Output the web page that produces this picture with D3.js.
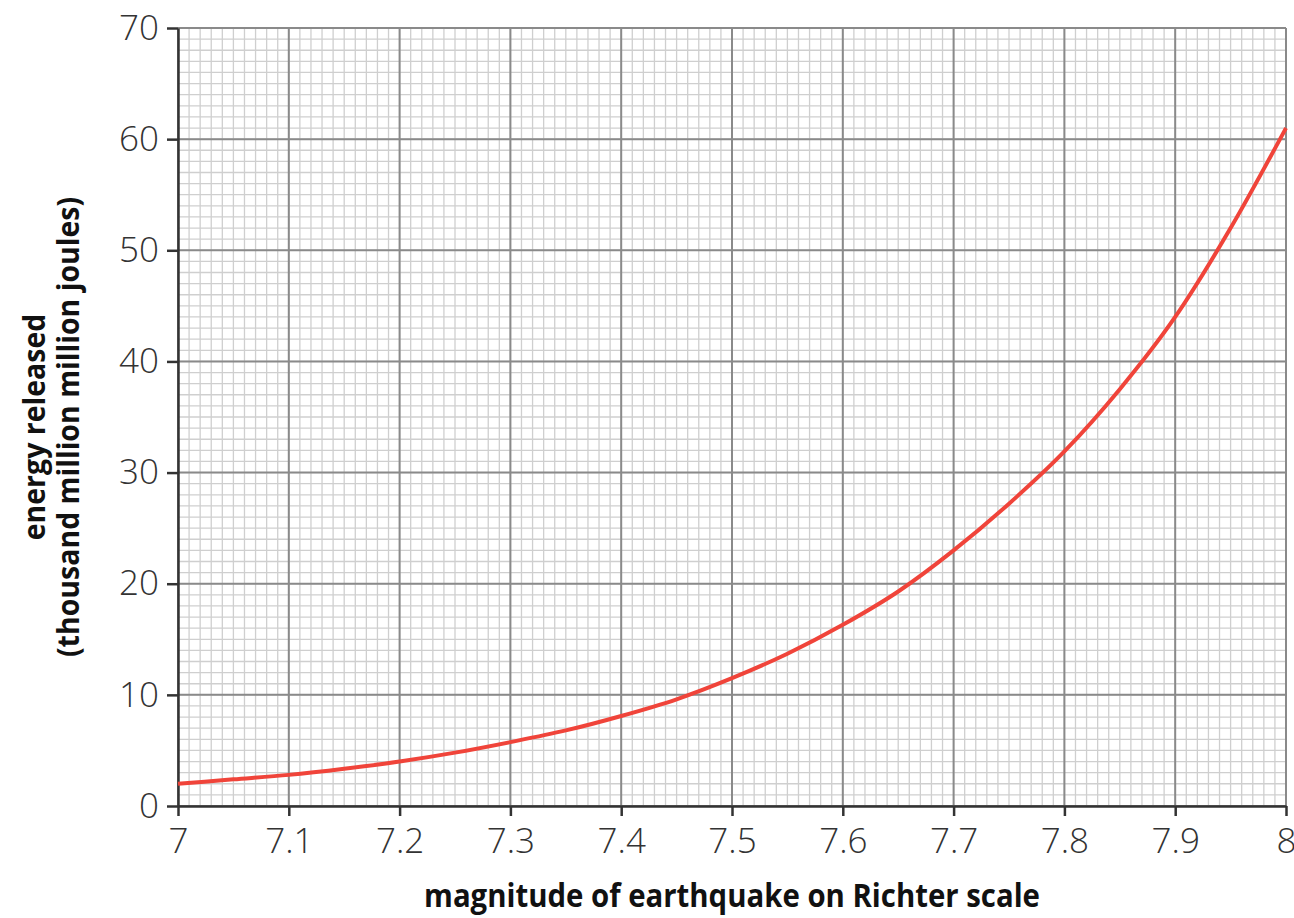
<!DOCTYPE html>
<html>
<head>
<meta charset="utf-8">
<script src="https://cdn.jsdelivr.net/npm/d3@7"></script>
<style>
  body { margin: 0; background: #fff; }
  .tick-label { font-family: "Open Sans", "Liberation Sans", sans-serif; font-weight: 300; fill: #333; }
  .axis-title { font-family: "Open Sans", "DejaVu Sans", sans-serif; font-weight: bold; fill: #111; }
</style>
</head>
<body>
<div id="chart"></div>
<script>
// values
const magnitudes = [7.0, 7.05, 7.1, 7.15, 7.2, 7.25, 7.3, 7.35, 7.4, 7.45, 7.5, 7.55, 7.6, 7.65, 7.7, 7.75, 7.8, 7.85, 7.9, 7.95, 8.0]
const energies   = [2.0, 2.4, 2.8, 3.35, 4.0, 4.8, 5.75, 6.8, 8.1, 9.6, 11.5, 13.7, 16.3, 19.3, 23.0, 27.2, 31.9, 37.5, 44.0, 52.0, 61.0]
const xTicks = [7, 7.1, 7.2, 7.3, 7.4, 7.5, 7.6, 7.7, 7.8, 7.9, 8]
const yTicks = [0, 10, 20, 30, 40, 50, 60, 70]

const width = 1294, height = 918
const margin = {top: 28, right: 8, bottom: 112, left: 178}

const svg = d3.select("#chart").append("svg")
  .attr("width", width)
  .attr("height", height)

const x = d3.scaleLinear().domain([7, 8]).range([margin.left, width - margin.right])
const y = d3.scaleLinear().domain([0, 70]).range([height - margin.bottom, margin.top])

// minor grid, ten steps per major division
const xMinor = d3.range(0, 101).map(i => 7 + i / 100)
const yMinor = d3.range(0, 71)

const grid = svg.append("g")
grid.append("g").selectAll("line")
  .data(xMinor)
  .join("line")
    .attr("x1", d => x(d)).attr("x2", d => x(d))
    .attr("y1", y(0)).attr("y2", y(70))
    .attr("stroke", "#cfcfcf").attr("stroke-width", 1.3)
grid.append("g").selectAll("line")
  .data(yMinor)
  .join("line")
    .attr("y1", d => y(d)).attr("y2", d => y(d))
    .attr("x1", x(7)).attr("x2", x(8))
    .attr("stroke", "#cfcfcf").attr("stroke-width", 1.3)

// major grid
grid.append("g").selectAll("line")
  .data(xTicks)
  .join("line")
    .attr("x1", d => x(d)).attr("x2", d => x(d))
    .attr("y1", y(0)).attr("y2", y(70))
    .attr("stroke", "#8a8a8a").attr("stroke-width", 2)
grid.append("g").selectAll("line")
  .data(yTicks)
  .join("line")
    .attr("y1", d => y(d)).attr("y2", d => y(d))
    .attr("x1", x(7)).attr("x2", x(8))
    .attr("stroke", "#8a8a8a").attr("stroke-width", 2)

// axes
const xAxis = g => g
  .attr("transform", `translate(0,${y(0)})`)
  .call(d3.axisBottom(x).tickValues(xTicks).tickFormat(d3.format("~g")).tickSize(10).tickSizeOuter(0).tickPadding(12))
  .call(g => g.selectAll("path, line").attr("stroke", "#333").attr("stroke-width", 2.5))
  .call(g => g.selectAll("text").attr("class", "tick-label").attr("font-size", 35).attr("fill", "#333"))

const yAxis = g => g
  .attr("transform", `translate(${x(7)},0)`)
  .call(d3.axisLeft(y).tickValues(yTicks).tickSize(11).tickSizeOuter(0).tickPadding(8))
  .call(g => g.selectAll("path, line").attr("stroke", "#333").attr("stroke-width", 2.5))
  .call(g => g.selectAll("text").attr("class", "tick-label").attr("font-size", 35).attr("fill", "#333"))

svg.append("g").call(xAxis).attr("font-family", null)
svg.append("g").call(yAxis).attr("font-family", null)

// curve
const line = d3.line()
  .curve(d3.curveMonotoneX)
  .x((d, i) => x(magnitudes[i]))
  .y(d => y(d))

svg.append("path")
  .datum(energies)
  .attr("fill", "none")
  .attr("stroke", "#f0443a")
  .attr("stroke-width", 4)
  .attr("d", line)

// titles (squeezed sideways to look like the condensed face of the original)
svg.append("text")
  .attr("class", "axis-title")
  .attr("transform", "translate(732,907) scale(0.89,1)")
  .attr("text-anchor", "middle")
  .attr("font-size", 33)
  .text("magnitude of earthquake on Richter scale")

const yTitle = svg.append("text")
  .attr("class", "axis-title")
  .attr("transform", "translate(0,427) rotate(-90) scale(0.92,1)")
  .attr("text-anchor", "middle")
  .attr("font-size", 31)

yTitle.append("tspan").attr("x", 0).attr("y", 45).text("energy released")
yTitle.append("tspan").attr("x", 0).attr("y", 79).text("(thousand million million joules)")
</script>
</body>
</html>
